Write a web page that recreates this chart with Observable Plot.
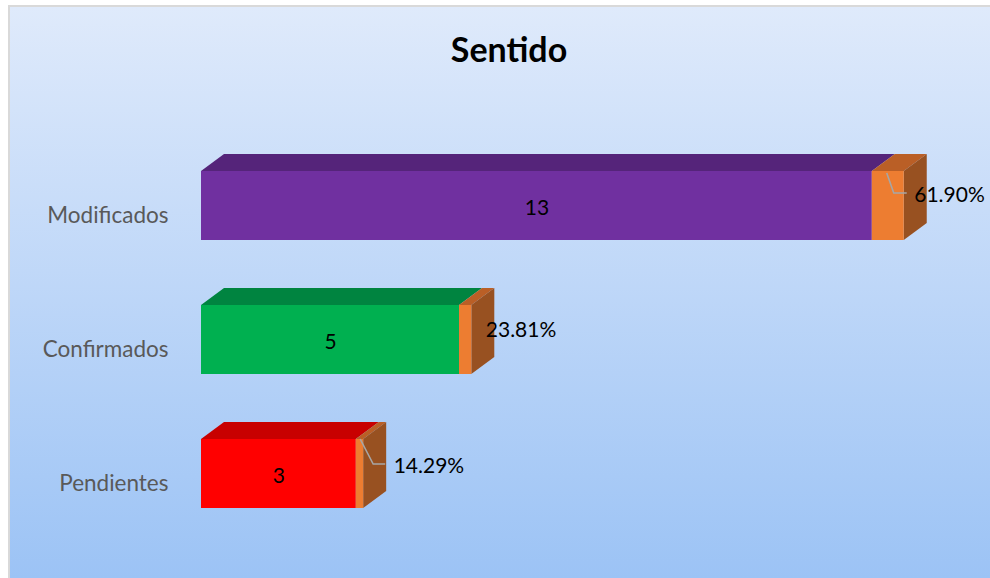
<!DOCTYPE html>
<html>
<head>
<meta charset="utf-8">
<script src="https://cdn.jsdelivr.net/npm/d3@7"></script>
<script src="https://cdn.jsdelivr.net/npm/@observablehq/plot@0.6"></script>
<style>
html, body { margin: 0; padding: 0; background: #ffffff; }
#wrap { position: relative; width: 990px; height: 578px; overflow: hidden; }
#bg { position: absolute; left: 8px; top: 5px; right: 0; bottom: 0;
      border-left: 2px solid #d9d9d9; border-top: 2px solid #d9d9d9;
      background: linear-gradient(#dfeafb, #9cc3f5); }
#title { position: absolute; left: 0; width: 1018px; top: 32px; text-align: center;
         font: bold 34px Lato, "Open Sans", sans-serif; line-height: 34px; color: #000; }
#chart { position: absolute; left: 0; top: 0; }
</style>
</head>
<body>
<div id="wrap">
  <div id="bg"></div>
  <div id="chart"></div>
  <div id="title">Sentido</div>
</div>
<script>
// ---- data ----
const categories = ["Modificados", "Confirmados", "Pendientes"];
const counts = [13, 5, 3];
const percents = [61.90, 23.81, 14.29];

const rows = categories.map((c, i) => ({cat: c, count: counts[i], pct: percents[i]}));

// ---- styles ----
const frontFill = {Modificados: "#7030a0", Confirmados: "#00b050", Pendientes: "#ff0000"};
const topFill = {Modificados: "#55247a", Confirmados: "#008440", Pendientes: "#c80000"};
const orangeFront = "#ed7d31", orangeTop = "#ba5f26", orangeSide = "#985121";
const DX = 23, DY = 17; // 3D depth in pixels
const pctLabelOffset = {Modificados: [10, -11], Confirmados: [14, -10], Pendientes: [30, -8]};
const leaders = {
  Modificados: [[-17, 2], [-10, 22], [3, 22]],
  Pendientes: [[-3, 0], [10, 25], [22, 25]]
};

function poly(g, pts, fill) {
  g.append("polygon").attr("points", pts.map(p => p.join(",")).join(" ")).attr("fill", fill);
}

function depthFaces(index, scales) {
  const x = scales.x, y = scales.y;
  const bw = y.bandwidth ? y.bandwidth() : scales.scales.y.bandwidth;
  const g = d3.create("svg:g");
  rows.forEach(r => {
    const y0 = y(r.cat), y1 = y0 + bw;
    const xa = x(0), xb = x(r.count), xc = x(r.count + r.pct / 100);
    poly(g, [[xa, y0], [xb, y0], [xb + DX, y0 - DY], [xa + DX, y0 - DY]], topFill[r.cat]);
    poly(g, [[xb, y0], [xc, y0], [xc + DX, y0 - DY], [xb + DX, y0 - DY]], orangeTop);
    poly(g, [[xc, y0], [xc + DX, y0 - DY], [xc + DX, y1 - DY], [xc, y1]], orangeSide);
  });
  return g.node();
}

function leaderLines(index, scales) {
  const x = scales.x, y = scales.y;
  const g = d3.create("svg:g");
  rows.forEach(r => {
    const L = leaders[r.cat];
    if (!L) return;
    const xc = x(r.count + r.pct / 100), y0 = y(r.cat);
    g.append("polyline")
      .attr("points", L.map(([dx, dy]) => `${xc + dx},${y0 + dy}`).join(" "))
      .attr("fill", "none").attr("stroke", "#a6a6a6").attr("stroke-width", 1.6);
  });
  return g.node();
}

const pctMarks = rows.map(r => Plot.text([r], {
  x: d => d.count + d.pct / 100,
  y: "cat",
  text: d => d.pct.toFixed(2) + "%",
  textAnchor: "start",
  dx: pctLabelOffset[r.cat][0],
  dy: pctLabelOffset[r.cat][1],
  fontSize: 21,
  fill: "#000000"
}));

const chart = Plot.plot({
  width: 990,
  height: 578,
  marginLeft: 201,
  marginRight: 66.6,
  marginTop: 170,
  marginBottom: 70,
  style: {background: "transparent", fontFamily: "Lato, 'Open Sans', sans-serif", overflow: "visible"},
  x: {domain: [0, 14], axis: null},
  y: {domain: categories, paddingInner: 0.487, paddingOuter: 0, axis: null},
  marks: [
    depthFaces,
    Plot.barX(rows, {x1: 0, x2: "count", y: "cat", fill: d => frontFill[d.cat]}),
    Plot.barX(rows, {x1: "count", x2: d => d.count + d.pct / 100, y: "cat", fill: orangeFront}),
    Plot.axisY({tickSize: 0, tickPadding: 33, fontSize: 22.5, color: "#595959", dy: 10, label: null}),
    Plot.text(rows, {x: d => d.count / 2, y: "cat", text: d => String(d.count), fontSize: 21, fill: "#000000", dy: 2}),
    ...pctMarks,
    leaderLines
  ]
});
document.getElementById("chart").appendChild(chart);
</script>
</body>
</html>
